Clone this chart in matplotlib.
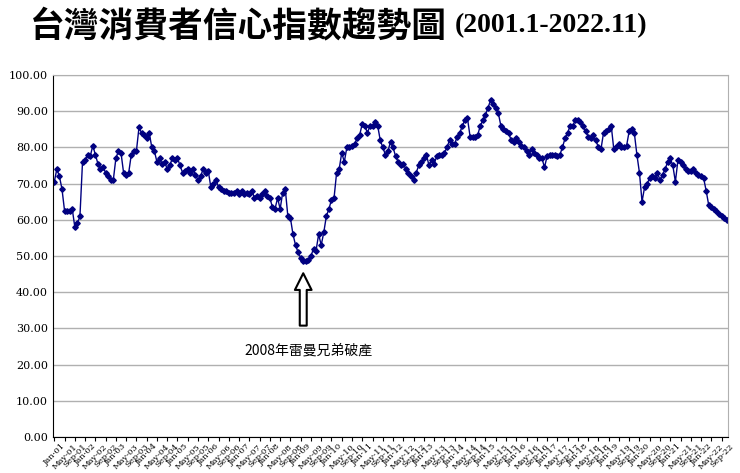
import matplotlib
matplotlib.use("Agg")
import matplotlib.pyplot as plt
import numpy as np
from matplotlib.ticker import FormatStrFormatter

plt.rcParams['font.family'] = ['Noto Sans CJK TC', 'DejaVu Sans']

vals_by_year = {
2001: [70.5,74,72,68.5,62.5,62.5,62.5,63,58,59,61,76],
2002: [76.5,78,77.5,80.5,78,75.5,74,74.5,73,72,71,71],
2003: [77,79,78.5,73,72.5,73,78,79,79,85.5,84,83.5],
2004: [82.5,84,80,79,76,77,75.5,76,74,75,77,76.5],
2005: [77,75,73,73.5,74,73,74,72.5,71,72,74,73],
2006: [73.5,69,70,71,69,68.5,68,68,67.5,67.5,67.5,68],
2007: [67,68,67,67.5,67,68,66,66.5,66,67,68,66.5],
2008: [66,63.5,63,66,63,67.5,68.5,61,60.5,56,53,51],
2009: [49.5,48.5,48.5,49,50,52,51.5,56,53,56.5,61,63],
2010: [65.5,66,73,74,78.5,76,80,80,80.5,81,82.5,83.5],
2011: [86.5,86,84,86,86,87,86,82,80,78,79,81.5],
2012: [80,77.5,76,75,75.5,74,73,72,71,73,75,76],
2013: [77,78,75,76.5,75.5,77.5,78,78,78.5,80,82,81],
2014: [81,83,84,86,87.5,88,83,83,83,83.5,86,87.5],
2015: [89,91,93,92,91,89.5,86,85,84.5,84,82,81.5],
2016: [82.5,81.5,80.5,80,79,78,79.5,78.5,78,77,77,74.5],
2017: [77.5,78,78,78,77.5,78,80,82.5,84,86,86,87.5],
2018: [87.5,87,86,84.5,83,82.5,83.5,82,80,79.5,84,84.5],
2019: [85,86,79.5,80,81,80,80,80.5,84.5,85,84,78],
2020: [73,65,69,70,71.5,72,71.5,73,71,72.5,74,76],
2021: [77,75,70.5,76.5,76,75,74,73.5,73.5,74,73,72.5],
2022: [72,71.5,68,64,63.5,63,62.5,61.5,61,60.5,60],
}
values = [v for y in sorted(vals_by_year) for v in vals_by_year[y]]
months = ['Jan', 'May', 'Sep']
tick_labels = [f"{m}-{y % 100:02d}" for y in range(2001, 2023) for m in months]

fig = plt.figure(figsize=(7.4, 4.73), dpi=100)
ax = fig.add_axes([53/740, 1-437/473, 675/740, 362/473])
x = np.arange(len(values))
ax.plot(x, values, color='#000080', lw=1.0, marker='D', ms=2.8)
ax.set_ylim(0, 100)
ax.set_xlim(-0.5, len(values) - 0.5)
ax.set_yticks(np.arange(0, 101, 10))
ax.yaxis.set_major_formatter(FormatStrFormatter('%.2f'))
ax.grid(axis='y', color='#b0b0b0', lw=1)
ax.set_axisbelow(True)
tpos = np.arange(0, len(values), 4)
ax.set_xticks(tpos)
ax.set_xticklabels(tick_labels[:len(tpos)], rotation=45, fontsize=6, family='DejaVu Serif')
ax.tick_params(axis='y', labelsize=8, length=0)
ax.tick_params(axis='x', length=3, pad=1)
for s in ['top', 'right']:
    ax.spines[s].set_color('#b0b0b0')
for lab in ax.get_yticklabels():
    lab.set_family('DejaVu Serif')

ax.annotate('', xy=(97, 46), xytext=(97, 30),
            arrowprops=dict(arrowstyle='simple,head_length=1.2,head_width=1.2,tail_width=0.5',
                            fc='white', ec='black', lw=1.5))
ax.text(99, 24, '2008年雷曼兄弟破產', ha='center', va='center', fontsize=10)

fig.text(30/740, 0.945, '台灣消費者信心指數趨勢圖', fontsize=25, fontweight='bold', va='center',
         family=['Noto Sans CJK TC'])
fig.text(455/740, 0.945, '(2001.1-2022.11)', fontsize=20, fontweight='bold', va='center',
         family=['Liberation Serif'])
fig.savefig('out.png', dpi=100)
